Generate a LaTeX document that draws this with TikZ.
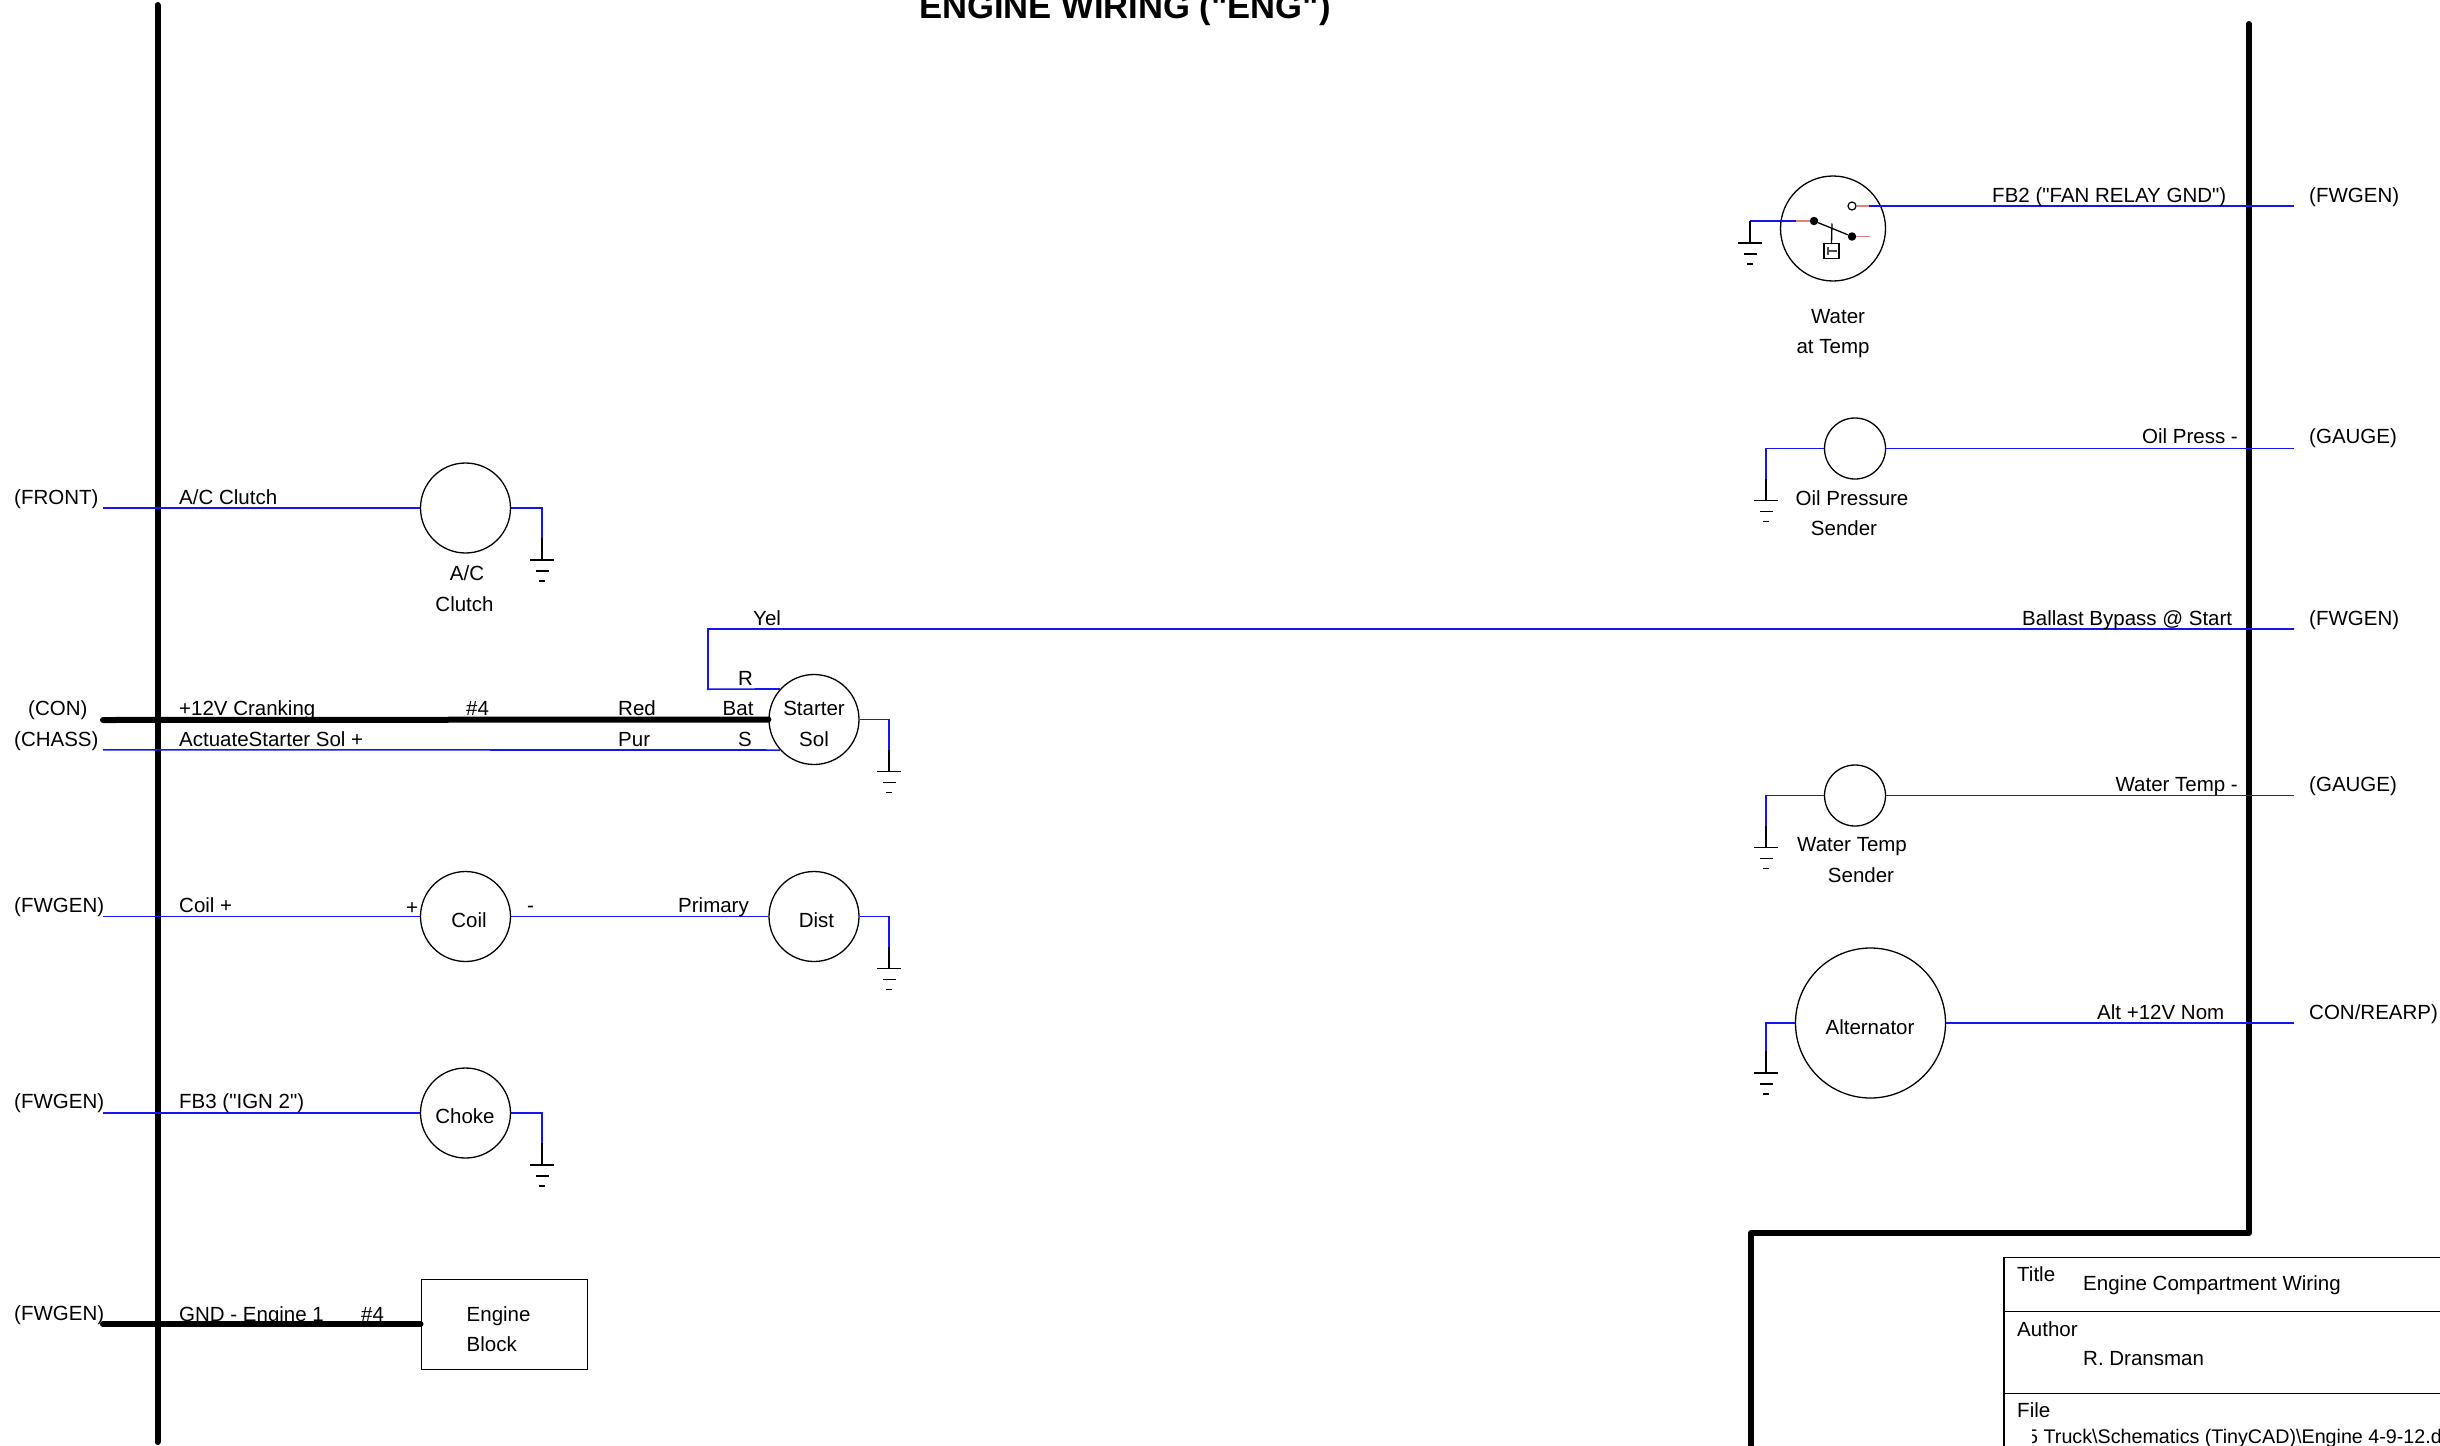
\documentclass[tikz,border=0pt]{standalone}
\usepackage{fontspec}
\setmainfont{Liberation Sans}[Ligatures=TeXOff]
\definecolor{wireblue}{RGB}{20,20,245}
\definecolor{stubred}{RGB}{222,130,130}
\tikzset{
  x=1pt,y=-1pt,
  lab/.style={anchor=base west,inner sep=0pt,font=\fontsize{20.5}{24}\selectfont},
  labc/.style={anchor=base,inner sep=0pt,font=\fontsize{20.5}{24}\selectfont},
  labr/.style={anchor=base east,inner sep=0pt,font=\fontsize{20.5}{24}\selectfont},
  part/.style={draw=black,line width=1.3pt,inner sep=0pt,circle},
  wire/.style={draw=wireblue,line width=1.6pt},
  stub/.style={draw=stubred,line width=1.7pt},
  heavy/.style={draw=black,line width=6pt,line cap=round},
  bus/.style={draw=black,line width=6pt,line cap=round,line join=round},
  thin/.style={draw=black,line width=1.3pt},
  gnd/.pic={
    \draw[black,line width=1.3pt] (0,0) -- (0,22);
    \draw[black,line width=1.3pt] (-12,22) -- (12,22);
    \draw[black,line width=1.3pt] (-6.5,33) -- (6.5,33);
    \draw[black,line width=1.3pt] (-3,43) -- (3,43);
  }
}
\begin{document}
\begin{tikzpicture}
\useasboundingbox (0,0) rectangle (2440,1445);
\clip (0,0) rectangle (2440,1445);

% title
\node[anchor=base,inner sep=0pt,font=\fontsize{34.6}{40}\selectfont\bfseries] (maintitle) at (1125,19) {ENGINE WIRING ("ENG")};

% buses
\coordinate (busLt) at (157.5,5);
\coordinate (busLb) at (157.5,1442);
\draw[bus] (busLt) -- (busLb);
\coordinate (busRt) at (2249,24);
\coordinate (busRc) at (2249,1233);
\coordinate (busRd) at (1751,1233);
\coordinate (busRb) at (1751,1448);
\draw[bus] (busRt) -- (busRc) -- (busRd) -- (busRb);

% parts
\node[part,minimum size=90pt] (ac) at (465.5,508) {};
\node[part,minimum size=90pt] (starter) at (814,719.5) {};
\node[part,minimum size=90pt] (coil) at (465.5,916.5) {};
\node[part,minimum size=90pt] (dist) at (814,916.5) {};
\node[part,minimum size=90pt] (choke) at (465.5,1113) {};
\node[draw=black,line width=1pt,inner sep=0pt,minimum width=166pt,minimum height=90pt] (block) at (504,1324) {};
\node[part,minimum size=105pt] (water) at (1833,228.5) {};
\node[part,minimum size=61pt] (oil) at (1855,448.5) {};
\node[part,minimum size=61pt] (wtemp) at (1855,795.5) {};
\node[part,minimum size=150pt] (alt) at (1870.5,1023) {};

% free ends of wires
\coordinate (frontE) at (103,508);
\coordinate (conE) at (103,720);
\coordinate (chassE) at (103,749.8);
\coordinate (coilE) at (103,916.5);
\coordinate (fb3E) at (103,1113);
\coordinate (gndE) at (103,1324);
\coordinate (fanE) at (2294,206);
\coordinate (oilE) at (2294,448.5);
\coordinate (ballE) at (2294,629);
\coordinate (wtE) at (2294,795.5);
\coordinate (altE) at (2294,1023);

% left wires
\draw[wire] (frontE) -- (ac.west);
\draw[wire] (ac.east) -- (542,508) -- (542,538) coordinate (acG);
\pic at (acG) {gnd};
\draw[heavy] (conE) -- (starter.west);
\draw[wire] (chassE) -- (starter.222);
\draw[wire] (ballE) -- (708,629) -- (708,689.2) -- (starter.138);
\draw[wire] (starter.east) -- (889,719.5) -- (889,749.5) coordinate (stG);
\pic at (stG) {gnd};
\draw[wire] (coilE) -- (coil.west);
\draw[wire] (coil.east) -- (dist.west);
\draw[wire] (dist.east) -- (889,916.5) -- (889,946.5) coordinate (diG);
\pic at (diG) {gnd};
\draw[wire] (fb3E) -- (choke.west);
\draw[wire] (choke.east) -- (542,1113) -- (542,1143) coordinate (chG);
\pic at (chG) {gnd};
\draw[heavy] (gndE) -- (block.west);

% water-at-temp switch
\node[circle,fill=black,inner sep=0pt,minimum size=8.5pt] (swA) at (1814,221) {};
\node[circle,fill=black,inner sep=0pt,minimum size=8.5pt] (swB) at (1852,236.5) {};
\node[circle,draw=black,fill=white,line width=1.2pt,inner sep=0pt,minimum size=8pt] (swC) at (1852,206) {};
\node[draw=black,line width=1.2pt,inner sep=0pt,minimum size=15pt] (swBox) at (1831.5,251) {};
\draw[thin] (swA) -- (swB);
\draw[thin] (1832,223.5) -- (swBox.north);
\draw[black!70,line width=1.2pt] (1828,247) -- (1828,255) (1828,251) -- (1837,251);
\draw[wire] (1750,221) -- (1796,221);
\draw[stub] (1796,221) -- (swA);
\draw[stub] (swC) -- (1869,206);
\draw[wire] (1869,206) -- (fanE);
\draw[stub] (swB) -- (1870,236.5);
\coordinate (waG) at (1750,221);
\pic at (waG) {gnd};

% right wires
\draw[wire] (oil.east) -- (oilE);
\draw[wire] (oil.west) -- (1766,448.5) -- (1766,478.5) coordinate (oiG);
\pic at (oiG) {gnd};
\draw[wire] (wtemp.east) -- (wtE);
\draw[wire] (wtemp.west) -- (1766,795.5) -- (1766,825.5) coordinate (wtG);
\pic at (wtG) {gnd};
\draw[wire] (alt.east) -- (altE);
\draw[wire] (alt.west) -- (1766,1023) -- (1766,1051) coordinate (alG);
\pic at (alG) {gnd};

% left labels
\node[lab] (l1) at (14,504.5) {(FRONT)};
\node[lab] (l2) at (179,504.5) {A/C Clutch};
\node[labc] (l3) at (467,580) {A/C};
\node[labc] (l4) at (464.5,611) {Clutch};
\node[lab] (l5) at (28,715.5) {(CON)};
\node[lab] (l6) at (14,746.5) {(CHASS)};
\node[lab] (l7) at (179,715.5) {+12V Cranking};
\node[labc] (l8) at (477.5,715.5) {\#4};
\node[lab] (l9) at (618,715.5) {Red};
\node[lab] (l10) at (618,746.5) {Pur};
\node[lab] (l11) at (722.5,715.5) {Bat};
\node[lab] (l12) at (738,746.5) {S};
\node[lab] (l13) at (738,685.5) {R};
\node[lab] (l14) at (753,625.5) {Yel};
\node[lab] (l15) at (179,746.5) {ActuateStarter Sol +};
\node[labc] (l16) at (814,715.5) {Starter};
\node[labc] (l17) at (814,746.5) {Sol};
\node[lab] (l18) at (14,912.5) {(FWGEN)};
\node[lab] (l19) at (179,912.5) {Coil +};
\node[lab] (l20) at (406,914) {+};
\node[lab] (l21) at (527,912) {-};
\node[lab] (l22) at (678,912.5) {Primary};
\node[labc] (l23) at (469,927.5) {Coil};
\node[labc] (l24) at (816.5,927.5) {Dist};
\node[lab] (l25) at (14,1108.5) {(FWGEN)};
\node[lab] (l26) at (179,1108.5) {FB3 ("IGN 2")};
\node[labc] (l27) at (465,1123.5) {Choke};
\node[lab] (l28) at (14,1320.5) {(FWGEN)};
\node[lab] (l29) at (179,1321.5) {GND - Engine 1};
\node[lab] (l30) at (361,1321.5) {\#4};
\node[lab] (l31) at (466.5,1321) {Engine};
\node[lab] (l32) at (466.5,1351.5) {Block};

% right labels
\node[lab] (r1) at (1992,202.5) {FB2 ("FAN RELAY GND")};
\node[lab] (r2) at (2309,202.5) {(FWGEN)};
\node[labc] (r3) at (1838,323) {Water};
\node[labc] (r4) at (1833,353) {at Temp};
\node[labr] (r5) at (2238,443) {Oil Press -};
\node[lab] (r6) at (2309,443) {(GAUGE)};
\node[labc] (r7) at (1852,505) {Oil Pressure};
\node[labc] (r8) at (1844,535) {Sender};
\node[lab] (r9) at (2022,625.5) {Ballast Bypass @ Start};
\node[lab] (r10) at (2309,625.5) {(FWGEN)};
\node[labr] (r11) at (2238,791) {Water Temp -};
\node[lab] (r12) at (2309,791) {(GAUGE)};
\node[labc] (r13) at (1852,851) {Water Temp};
\node[labc] (r14) at (1861,882.5) {Sender};
\node[labc] (r15) at (1870,1034.5) {Alternator};
\node[lab] (r16) at (2097,1019.5) {Alt +12V Nom};
\node[lab] (r17) at (2309,1019.5) {CON/REARP)};

% title block
\coordinate (tbTL) at (2004,1257.5);
\coordinate (tbTR) at (2442,1257.5);
\coordinate (tbBL) at (2004,1447);
\coordinate (tb2L) at (2004,1311.5);
\coordinate (tb2R) at (2442,1311.5);
\coordinate (tb3L) at (2004,1393.5);
\coordinate (tb3R) at (2442,1393.5);
\draw[thin] (tbTR) -- (tbTL) -- (tbBL);
\draw[thin] (tb2L) -- (tb2R);
\draw[thin] (tb3L) -- (tb3R);
\node[lab] (t1) at (2017,1281.5) {Title};
\node[lab] (t2) at (2083,1290) {Engine Compartment Wiring};
\node[lab] (t3) at (2017,1336.5) {Author};
\node[lab] (t4) at (2083,1365.5) {R. Dransman};
\node[lab] (t5) at (2017,1417.5) {File};
\begin{scope}
\clip (2032,1420) rectangle (2440,1445);
\node[anchor=base west,inner sep=0pt,font=\fontsize{19.7}{24}\selectfont] (t6) at (2027,1443) {5 Truck\textbackslash Schematics (TinyCAD)\textbackslash Engine 4-9-12.d};
\end{scope}
\end{tikzpicture}
\end{document}
